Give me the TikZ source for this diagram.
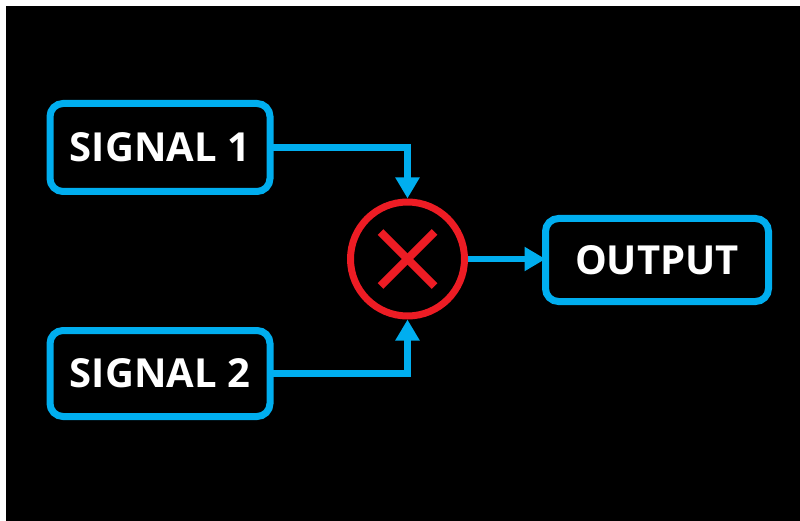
\documentclass[tikz,border=0pt]{standalone}
\usepackage{fontspec}
\setmainfont{Open Sans}
\usetikzlibrary{arrows.meta}
\definecolor{cyanblue}{RGB}{0,174,239}
\definecolor{mulred}{RGB}{237,28,36}
\tikzset{
  boxnode/.style={draw=cyanblue, line width=7pt, rounded corners=13pt, fill=black,
    text=white, font=\fontsize{40}{44}\selectfont\bfseries, inner sep=0pt, outer sep=0pt},
  conn/.style={draw=cyanblue, line width=6.5pt, -{Triangle[length=21pt,width=23pt]}},
}
\begin{document}
\begin{tikzpicture}[x=1pt,y=-1pt]
\useasboundingbox (0,0) rectangle (800,521);
\fill[white] (0,0) rectangle (800,521);
\fill[black] (6,6) rectangle (800,521);
\node[boxnode, minimum width=220pt, minimum height=88pt] (s1) at (160,147.5) {SIGNAL 1};
\node[boxnode, minimum width=220pt, minimum height=86pt] (s2) at (160,373.5) {SIGNAL 2};
\node[boxnode, minimum width=223pt, minimum height=83pt] (out) at (657,260) {OUTPUT};
\node[draw=mulred, line width=7pt, circle, minimum size=114pt, inner sep=0pt] (mul) at (407.5,259) {};
\draw[mulred, line width=8pt] (mul.center) ++(-27,-27) -- ++(54,54);
\draw[mulred, line width=8pt] (mul.center) ++(27,-27) -- ++(-54,54);
\draw[conn] (s1.east) -| (mul.north);
\draw[conn] (s2.east) -| (mul.south);
\draw[conn] (mul.east) -- (mul.east -| out.west);
\end{tikzpicture}
\end{document}
